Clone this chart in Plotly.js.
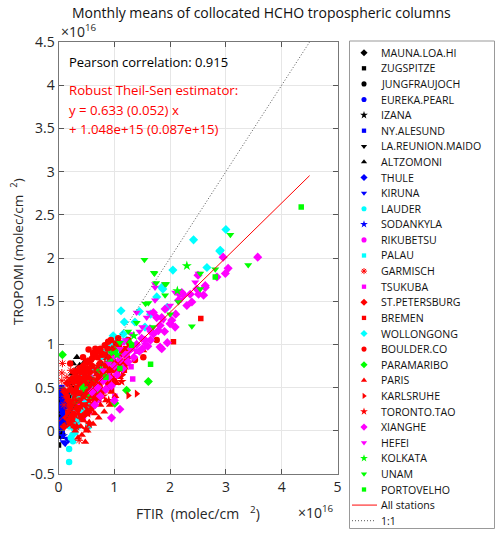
<!DOCTYPE html>
<html><head><meta charset="utf-8">
<script src="https://cdn.plot.ly/plotly-3.0.1.min.js"></script>
<style>body{margin:0;background:#fff}#chart{width:500px;height:535px}</style>
</head><body><div id="chart"></div>
<script>
// ---- data (column values in units of 1e16 molec/cm2) ----
const stationNames = ['MAUNA.LOA.HI','ZUGSPITZE','JUNGFRAUJOCH','EUREKA.PEARL','IZANA','NY.ALESUND','LA.REUNION.MAIDO','ALTZOMONI','THULE','KIRUNA','LAUDER','SODANKYLA','RIKUBETSU','PALAU','GARMISCH','TSUKUBA','ST.PETERSBURG','BREMEN','WOLLONGONG','BOULDER.CO','PARAMARIBO','PARIS','KARLSRUHE','TORONTO.TAO','XIANGHE','HEFEI','KOLKATA','UNAM','PORTOVELHO'];

const xMaunaLoa = [0.01,0.02,0.03,0.02,0.04,0.01,0.03,0.05,0.02,0.04,0.06,0.03];
const yMaunaLoa = [0.05,0.12,0.20,-0.02,0.08,0.25,0.30,0.15,0.35,-0.05,0.10,0.02];
const xZugspitze = [0.00,0.02,0.04,0.01,0.03,0.05,0.02,0.06,0.03,0.07,0.04,0.01,0.05,0.08,0.02,0.06,0.03,0.09];
const yZugspitze = [-0.165,0.10,0.22,0.05,0.28,0.18,0.35,0.12,-0.03,0.24,0.40,0.15,0.05,0.32,0.25,-0.06,0.08,0.18];
const xJungfraujoch = [0.02,0.04,0.05,0.03,0.07,0.06,0.08,0.04,0.09,0.05,0.10,0.03,0.07,0.06];
const yJungfraujoch = [0.18,0.22,0.30,0.08,0.26,0.12,0.38,0.42,0.20,0.02,0.30,0.27,0.45,0.35];
const xEureka = [0.03,0.05,0.04,0.07,0.06,0.08,0.05,0.09];
const yEureka = [0.05,0.15,0.28,0.20,-0.02,0.35,0.42,0.10];
const xIzana = [0.03,0.05,0.04,0.06,0.08,0.05,0.07];
const yIzana = [0.02,0.10,0.18,0.25,0.12,-0.05,0.30];
const xNyAlesund = [0.04,0.06,0.05,0.08,0.07,0.10,0.06,0.09];
const yNyAlesund = [0.10,0.30,0.45,0.22,0.05,0.38,0.50,0.15];
const xLaReunion = [0.10,0.14,0.18,0.12,0.22,0.16,0.20,0.25,0.13,0.28,0.19,0.24];
const yLaReunion = [0.22,0.30,0.38,0.15,0.42,0.45,0.28,0.50,0.08,0.35,0.55,0.60];
const xAltzomoni = [0.33,0.47,0.38,0.32,0.24,0.30,0.42,0.20,0.28,0.52,0.36,0.15,0.26];
const yAltzomoni = [0.85,0.80,0.76,0.68,0.66,0.70,0.62,0.55,0.58,0.72,0.50,0.45,0.78];
const xThule = [0.04,0.06,0.08,0.05,0.10,0.07,0.09];
const yThule = [0.12,0.25,0.40,0.48,0.30,0.05,0.20];
const xKiruna = [0.09,0.15,0.12,0.18,0.10,0.13,0.08,0.16,0.11,0.14];
const yKiruna = [-0.13,-0.09,-0.15,-0.11,0.05,0.20,0.35,0.12,0.45,0.28];
const xLauder = [0.19,0.19,0.22,0.25,0.28,0.20,0.30,0.24,0.33,0.18,0.27,0.35,0.22,0.31,0.26,0.38,0.54];
const yLauder = [-0.36,-0.21,-0.08,-0.05,0.02,0.05,-0.02,0.12,0.10,0.15,0.20,0.05,0.25,0.18,-0.12,0.14,0.05];
const xSodankyla = [0.06,0.09,0.12,0.08,0.14,0.11,0.07];
const ySodankyla = [0.02,0.18,0.30,-0.06,0.10,0.42,0.36];
const xRikubetsu = [0.25,0.32,0.40,0.45,0.38,0.52,0.30,0.48,0.58,0.42,0.35,0.55,0.62,0.28,0.50,0.66,0.44];
const yRikubetsu = [0.18,0.25,0.30,0.42,0.20,0.38,0.12,0.28,0.45,0.52,0.35,0.22,0.50,0.30,0.55,0.40,0.15];
const xPalau = [0.18,0.22,0.28,0.32,0.25,0.38,0.30,0.42,0.20,0.35,0.27,0.45,0.50,0.60,0.65,0.55,0.40];
const yPalau = [0.20,0.32,0.38,0.25,0.45,0.42,0.15,0.50,0.10,0.55,0.28,0.35,0.45,0.55,0.40,0.30,0.62];
const xGarmisch = [0.07,0.06,0.06,0.08,0.37,0.12,0.20,0.30,0.25,0.15,0.40,0.35,0.18,0.45,0.28,0.10,0.50,0.22,0.33,0.55];
const yGarmisch = [0.78,0.67,0.58,0.48,-0.11,0.40,0.55,0.60,0.35,0.62,0.45,0.72,0.25,0.65,0.15,0.30,0.52,0.70,0.42,0.38];
const xTsukuba = [0.45,0.55,0.62,0.70,0.78,0.85,0.92,1.01,1.10,1.18,1.30,1.33,0.68,0.75,0.88,0.95,1.05,0.58,0.82,1.22,0.50,0.98,1.15,0.72,1.40];
const yTsukuba = [0.38,0.45,0.50,0.55,0.62,0.70,0.68,0.40,0.82,0.88,0.74,0.60,0.42,0.75,0.52,0.90,0.65,0.62,0.85,0.95,0.55,0.78,1.02,0.35,0.92];
const xStPetersburg = [0.10,0.15,0.20,0.25,0.30,0.35,0.40,0.45,0.50,0.55,0.18,0.28,0.38,0.48,0.60,0.22,0.33,0.42,0.65,0.70,0.12,0.16,0.24,0.28,0.36,0.44,0.52,0.62,0.75,0.80];
const yStPetersburg = [0.05,0.15,0.22,0.30,0.28,0.42,0.38,0.50,0.45,0.60,0.35,0.10,0.55,0.25,0.52,0.48,0.62,0.18,0.70,0.58,0.45,0.55,0.60,0.68,0.70,0.75,0.80,0.85,0.78,0.90];
const xBremen = [2.55,2.06,0.70,0.25,0.35,0.45,0.55,0.65,0.80,0.90,1.00,0.30,0.40,0.50,0.60,0.75,0.85,0.95,0.20,1.10,1.20,0.58,0.42,0.68,0.32,0.48,0.62,0.78,0.88,0.98,1.08,1.18,0.38,0.52];
const yBremen = [1.30,1.03,0.90,0.20,0.35,0.30,0.50,0.45,0.62,0.70,0.58,0.05,0.15,0.65,0.28,0.40,0.85,0.48,0.10,0.75,0.95,0.72,0.60,0.55,0.50,0.45,0.38,0.75,0.62,0.80,0.88,0.70,0.25,0.20];
const xWollongong = [3.00,2.42,2.89,2.05,2.66,1.87,1.76,1.95,1.12,1.18,1.45,1.37,1.85,0.98,1.03,0.94,2.90,1.16,0.89,0.35,0.45,0.55,0.65,0.75,0.85,0.60,0.80,0.50,0.70,0.40,0.90,1.05,0.30,1.22,1.55,1.65];
const yWollongong = [2.33,2.21,2.08,1.86,1.89,1.64,1.55,1.43,1.39,1.26,1.38,1.26,1.66,1.10,1.02,0.99,2.09,1.12,0.93,0.40,0.55,0.62,0.72,0.85,0.92,0.48,0.70,0.38,0.58,0.25,0.80,0.90,0.12,1.05,1.20,1.35];
const xBoulder = [0.89,1.07,1.25,0.83,1.03,1.37,1.52,1.76,0.20,0.30,0.40,0.50,0.60,0.70,0.75,0.35,0.45,0.55,0.65,0.85,0.95,1.15,0.25,0.50,0.62,0.80,1.00,0.42,0.28,0.15,0.90,1.20,0.72,0.54,0.21,0.32,0.38,0.48,0.58,0.68,0.78,0.88,0.98,1.08,0.44,0.52,0.66,0.74,0.36,0.46,0.56,0.84,0.94,1.12,1.30];
const yBoulder = [1.03,1.07,1.05,0.99,1.01,0.82,0.85,1.05,0.30,0.45,0.55,0.62,0.75,0.85,0.95,0.25,0.40,0.50,0.58,0.75,0.85,0.92,0.15,0.80,0.90,0.62,0.70,0.68,0.58,0.40,0.55,0.80,0.45,0.94,0.78,0.62,0.72,0.70,0.82,0.70,0.88,0.95,0.95,0.98,0.85,0.72,0.95,0.70,0.35,0.52,0.68,0.88,1.05,0.80,0.95];
const xParamaribo = [0.07,1.61,1.22,1.01,0.45,0.60,0.75,0.85,0.55,0.95,0.30,0.68,1.01,1.28];
const yParamaribo = [0.88,0.57,0.47,0.32,0.50,0.58,0.70,0.62,0.40,0.80,0.35,0.48,0.93,1.01];
const xParis = [0.48,0.30,0.40,0.55,0.65,0.75,0.85,0.95,1.05,0.60,0.70,0.50,0.35,0.80,0.90,0.25,1.15,1.52,0.45,0.58,0.38,1.25,0.42,0.52,0.62,0.72,0.82,0.92,1.02,0.35,0.45,0.55,0.65,0.78,0.88,0.98,1.10,0.28,0.58,0.68];
const yParis = [-0.13,0.00,0.05,0.10,0.20,0.30,0.35,0.45,0.55,0.40,0.52,0.30,0.20,0.60,0.70,0.12,0.70,0.93,0.62,0.75,0.42,0.85,-0.05,0.00,0.08,0.15,0.22,0.30,0.40,-0.08,0.12,0.22,0.32,0.45,0.52,0.60,0.62,0.05,0.55,0.65];
const xKarlsruhe = [0.22,0.32,0.42,0.52,0.62,0.72,0.82,0.92,1.02,0.38,0.58,0.78,0.48,0.68,0.88,1.12,0.28,1.25,0.98,1.40,1.25,0.15,0.25,0.35,0.45,0.55,0.65,0.75,0.85,0.95,1.05,0.30,0.40,0.50,0.60,0.70,0.80,0.90,1.00,1.15];
const yKarlsruhe = [0.25,0.35,0.30,0.45,0.55,0.62,0.68,0.72,0.80,0.55,0.68,0.48,0.18,0.38,0.58,0.88,0.40,0.98,0.95,0.43,0.41,0.20,0.45,0.60,0.40,0.62,0.48,0.80,0.78,0.62,0.68,0.28,0.70,0.55,0.85,0.65,0.90,0.85,0.55,0.65];
const xToronto = [0.49,1.13,0.30,0.40,0.55,0.65,0.75,0.20,0.35,0.60,0.85,0.95,0.45,0.70,0.25,0.55,0.80,1.05,0.32,0.42,0.52,0.62,0.72,0.82,0.92,0.38,0.48,0.58,0.68,0.78,1.00,1.20,0.27,0.90];
const yToronto = [0.02,0.57,0.18,0.28,0.35,0.45,0.55,0.08,0.45,0.25,0.48,0.62,0.58,0.75,0.35,0.08,0.40,0.68,0.05,0.15,0.20,0.32,0.38,0.58,0.50,0.62,0.42,0.60,0.58,0.68,0.78,0.75,0.55,0.35];
const xXianghe = [3.57,2.95,3.04,2.99,2.84,2.50,2.63,2.60,2.51,2.39,2.24,2.17,2.36,2.21,2.48,2.63,2.15,1.91,1.76,1.82,2.03,1.64,1.49,1.82,1.79,1.85,2.00,1.70,1.85,2.09,1.00,1.10,1.20,1.30,1.40,1.55,1.60,1.70,0.60,0.70,0.80,0.90,1.05,1.15,1.25,1.35,1.45,0.75,0.85,0.95,1.00,0.65,1.50,1.65,1.90,2.10,2.30,1.95,0.95,1.10];
const yXianghe = [2.01,2.01,1.88,1.82,1.78,1.80,1.66,1.57,1.58,1.49,1.57,1.58,1.58,1.60,1.64,1.68,1.51,1.41,1.31,1.22,1.28,1.18,1.07,0.97,1.16,0.95,1.24,1.37,1.31,1.20,0.75,0.82,0.88,0.95,1.00,1.05,0.98,1.12,0.45,0.50,0.58,0.62,0.65,0.72,0.80,0.85,0.92,0.40,0.48,0.52,0.35,0.30,0.95,1.05,1.15,1.35,1.45,1.02,0.15,0.25];
const xHefei = [1.73,1.91,1.73,1.63,1.58,1.40,1.88,1.64,2.45,2.51,1.73,2.09,1.20,1.30,1.50,1.00,0.90,1.10,0.80,1.45,2.00,2.20,1.25,1.55];
const yHefei = [1.70,1.70,1.51,1.37,1.31,1.37,1.28,1.14,1.72,1.82,1.66,1.60,1.05,1.12,1.20,0.85,0.78,0.95,0.70,1.15,1.45,1.52,0.90,1.00];
const xKolkata = [2.30,2.13,1.35,1.05];
const yKolkata = [1.91,1.62,1.10,0.88];
const xUnam = [3.08,3.40,2.54,2.54,2.39,1.71,1.75,1.91,1.91,2.15,2.81,1.70,1.54,1.72,1.61,1.56,1.93,1.25,1.40,0.95,1.10,2.00];
const yUnam = [2.27,1.92,1.82,1.64,1.21,1.83,1.71,1.70,1.57,1.49,1.87,1.20,1.98,1.82,1.48,1.47,1.70,1.15,1.25,0.90,1.02,1.35];
const xPortoVelho = [4.35,2.81,1.65,1.31,0.85,1.10];
const yPortoVelho = [2.59,1.78,0.77,0.99,0.62,0.72];

const fitSlope = 0.633;          // Theil-Sen slope
const fitIntercept = 0.1048;     // 1.048e15 in units of 1e16
const lineXEnds = [0, 4.5];      // x extent of fitted and 1:1 lines

const xTickVals = [0,1,2,3,4,5];
const xTickText = ['0','1','2','3','4','5'];
const yTickVals = [-0.5,0,0.5,1,1.5,2,2.5,3,3.5,4,4.5];
const yTickText = ['-0.5','0','0.5','1','1.5','2','2.5','3','3.5','4','4.5'];

const stationX = [xMaunaLoa,xZugspitze,xJungfraujoch,xEureka,xIzana,xNyAlesund,xLaReunion,xAltzomoni,xThule,xKiruna,xLauder,xSodankyla,xRikubetsu,xPalau,xGarmisch,xTsukuba,xStPetersburg,xBremen,xWollongong,xBoulder,xParamaribo,xParis,xKarlsruhe,xToronto,xXianghe,xHefei,xKolkata,xUnam,xPortoVelho];
const stationY = [yMaunaLoa,yZugspitze,yJungfraujoch,yEureka,yIzana,yNyAlesund,yLaReunion,yAltzomoni,yThule,yKiruna,yLauder,ySodankyla,yRikubetsu,yPalau,yGarmisch,yTsukuba,yStPetersburg,yBremen,yWollongong,yBoulder,yParamaribo,yParis,yKarlsruhe,yToronto,yXianghe,yHefei,yKolkata,yUnam,yPortoVelho];

// ---- styles ----
const K='#000000', B='#0000ff', C='#00ffff', M='#ff00ff', R='#ff0000', G='#00ff00';
const stationColors = [K,K,K,B,K,B,K,K,B,B,C,B,M,C,R,M,R,R,C,R,G,R,R,R,M,M,G,G,G];
const stationSymbols = ['diamond','square','circle','circle','star','square','triangle-down','triangle-up','diamond','triangle-down','circle','star','circle','square','asterisk-open','square','diamond','square','diamond','circle','diamond','triangle-up','triangle-right','star','diamond','triangle-down','star','triangle-down','square'];
function mSize(sym, big){
  const base = {'diamond':7,'square':5.5,'circle':6.5,'star':7.5,'triangle-down':7,'triangle-up':7,'triangle-right':7,'asterisk-open':6.5}[sym];
  return big ? base : base*0.78;
}

const W=500, H=535;
const px = v => v/W, py = v => 1 - v/H;
const DOT = {color:'#444', width:0.9, dash:'1px,2px'};

const traces = [];
stationNames.forEach((name,i)=>{
  const sym = stationSymbols[i];
  traces.push({type:'scatter', mode:'markers', name:name, x:stationX[i], y:stationY[i],
    xaxis:'x', yaxis:'y', hoverinfo:'skip', cliponaxis:true,
    marker:{symbol:sym, color:stationColors[i], size:mSize(sym,true),
      line:{color:stationColors[i], width: sym==='asterisk-open'?1:0}}});
});
traces.push({type:'scatter', mode:'lines', x:lineXEnds, y:lineXEnds.map(v=>fitSlope*v+fitIntercept),
  xaxis:'x', yaxis:'y', hoverinfo:'skip', line:{color:'#ff0000', width:1}});
traces.push({type:'scatter', mode:'lines', x:lineXEnds, y:lineXEnds.slice(),
  xaxis:'x', yaxis:'y', hoverinfo:'skip', line:DOT});

// ---- legend (pixel-coordinate overlay axes to the right of the plot) ----
const legTop = 52.7, legStep = 15.6;
const legendLabels = stationNames.concat(['All stations','1:1']);
stationNames.forEach((name,i)=>{
  const sym = stationSymbols[i];
  traces.push({type:'scatter', mode:'markers', x:[364], y:[legTop+legStep*i], xaxis:'x2', yaxis:'y2', hoverinfo:'skip',
    marker:{symbol:sym, color:stationColors[i], size:mSize(sym,false),
      line:{color:stationColors[i], width: sym==='asterisk-open'?1:0}}});
});
traces.push({type:'scatter', mode:'lines', x:[352,377], y:[legTop+legStep*29, legTop+legStep*29], xaxis:'x2', yaxis:'y2', hoverinfo:'skip', line:{color:'#ff4040', width:1.3}});
traces.push({type:'scatter', mode:'lines', x:[352,376], y:[legTop+legStep*30, legTop+legStep*30], xaxis:'x2', yaxis:'y2', hoverinfo:'skip', line:DOT});

const FONT = 'Open Sans, sans-serif';
const annotations = [];
legendLabels.forEach((t,i)=>{
  annotations.push({text:t, xref:'paper', yref:'paper', x:px(379), y:py(legTop+legStep*i), xanchor:'left', yanchor:'middle', showarrow:false, font:{family:FONT, size:10.6, color:'#111'}});
});
const NB='\u00a0';
annotations.push(
  {text:'Monthly means of collocated HCHO tropospheric columns', x:px(261), y:py(13), xanchor:'center', yanchor:'middle', font:{size:14, color:'#111'}},
  {text:'×10<sup>16</sup>', x:px(59), y:py(31), xanchor:'left', yanchor:'middle', font:{size:14, color:'#262626'}},
  {text:'×10<sup>16</sup>', x:px(296), y:py(512), xanchor:'left', yanchor:'middle', font:{size:14, color:'#262626'}},
  {text:'FTIR'+NB+NB+'(molec/cm'+NB+NB+NB+'<sup>2</sup>)', x:px(198), y:py(513), xanchor:'center', yanchor:'middle', font:{size:14, color:'#262626'}},
  {text:'TROPOMI'+NB+'(molec/cm'+NB+NB+'<sup>2</sup>)', x:px(17), y:py(252), xanchor:'center', yanchor:'middle', textangle:-90, font:{size:13.5, color:'#262626'}},
  {text:'Pearson correlation: 0.915', x:px(67), y:py(62), xanchor:'left', yanchor:'middle', font:{size:13, color:'#000'}},
  {text:'Robust Theil-Sen estimator:', x:px(67), y:py(90), xanchor:'left', yanchor:'middle', font:{size:13.2, color:'#ff0000'}},
  {text:'y = 0.633 (0.052) x', x:px(67), y:py(110), xanchor:'left', yanchor:'middle', font:{size:13.2, color:'#ff0000'}},
  {text:'+ 1.048e+15 (0.087e+15)', x:px(67), y:py(129), xanchor:'left', yanchor:'middle', font:{size:13.2, color:'#ff0000'}}
);
annotations.slice(legendLabels.length).forEach(a=>{a.xref='paper'; a.yref='paper'; a.showarrow=false; a.font.family=FONT;});

const axisCommon = {ticks:'inside', ticklen:5, tickcolor:'#555', showline:true, linecolor:'#777', linewidth:1,
  mirror:'ticks', showgrid:true, gridcolor:'#e6e6e6', gridwidth:1, zeroline:false, fixedrange:true,
  tickfont:{family:FONT, size:14, color:'#262626'}, tickmode:'array'};

const layout = {
  width:W, height:H, margin:{l:0,r:0,t:0,b:0}, paper_bgcolor:'#fff', plot_bgcolor:'rgba(0,0,0,0)', showlegend:false,
  font:{family:FONT, color:'#262626'},
  xaxis:Object.assign({}, axisCommon, {domain:[58.5/W, 337.5/W], range:[0,5], tickvals:xTickVals, ticktext:xTickText, anchor:'y'}),
  yaxis:Object.assign({}, axisCommon, {domain:[1-474/H, 1-42/H], range:[-0.5,4.5], tickvals:yTickVals, ticktext:yTickText, anchor:'x'}),
  xaxis2:{domain:[340/W,1], range:[340,W], visible:false, anchor:'y2', fixedrange:true},
  yaxis2:{domain:[0,1], range:[H,0], visible:false, anchor:'x2', fixedrange:true},
  shapes:[{type:'rect', xref:'paper', yref:'paper', x0:px(349.5), x1:px(494.5), y0:py(528.5), y1:py(41), line:{color:'#999', width:1}, fillcolor:'rgba(0,0,0,0)'}],
  annotations:annotations
};

Plotly.newPlot('chart', traces, layout, {staticPlot:true, displayModeBar:false});
</script></body></html>
